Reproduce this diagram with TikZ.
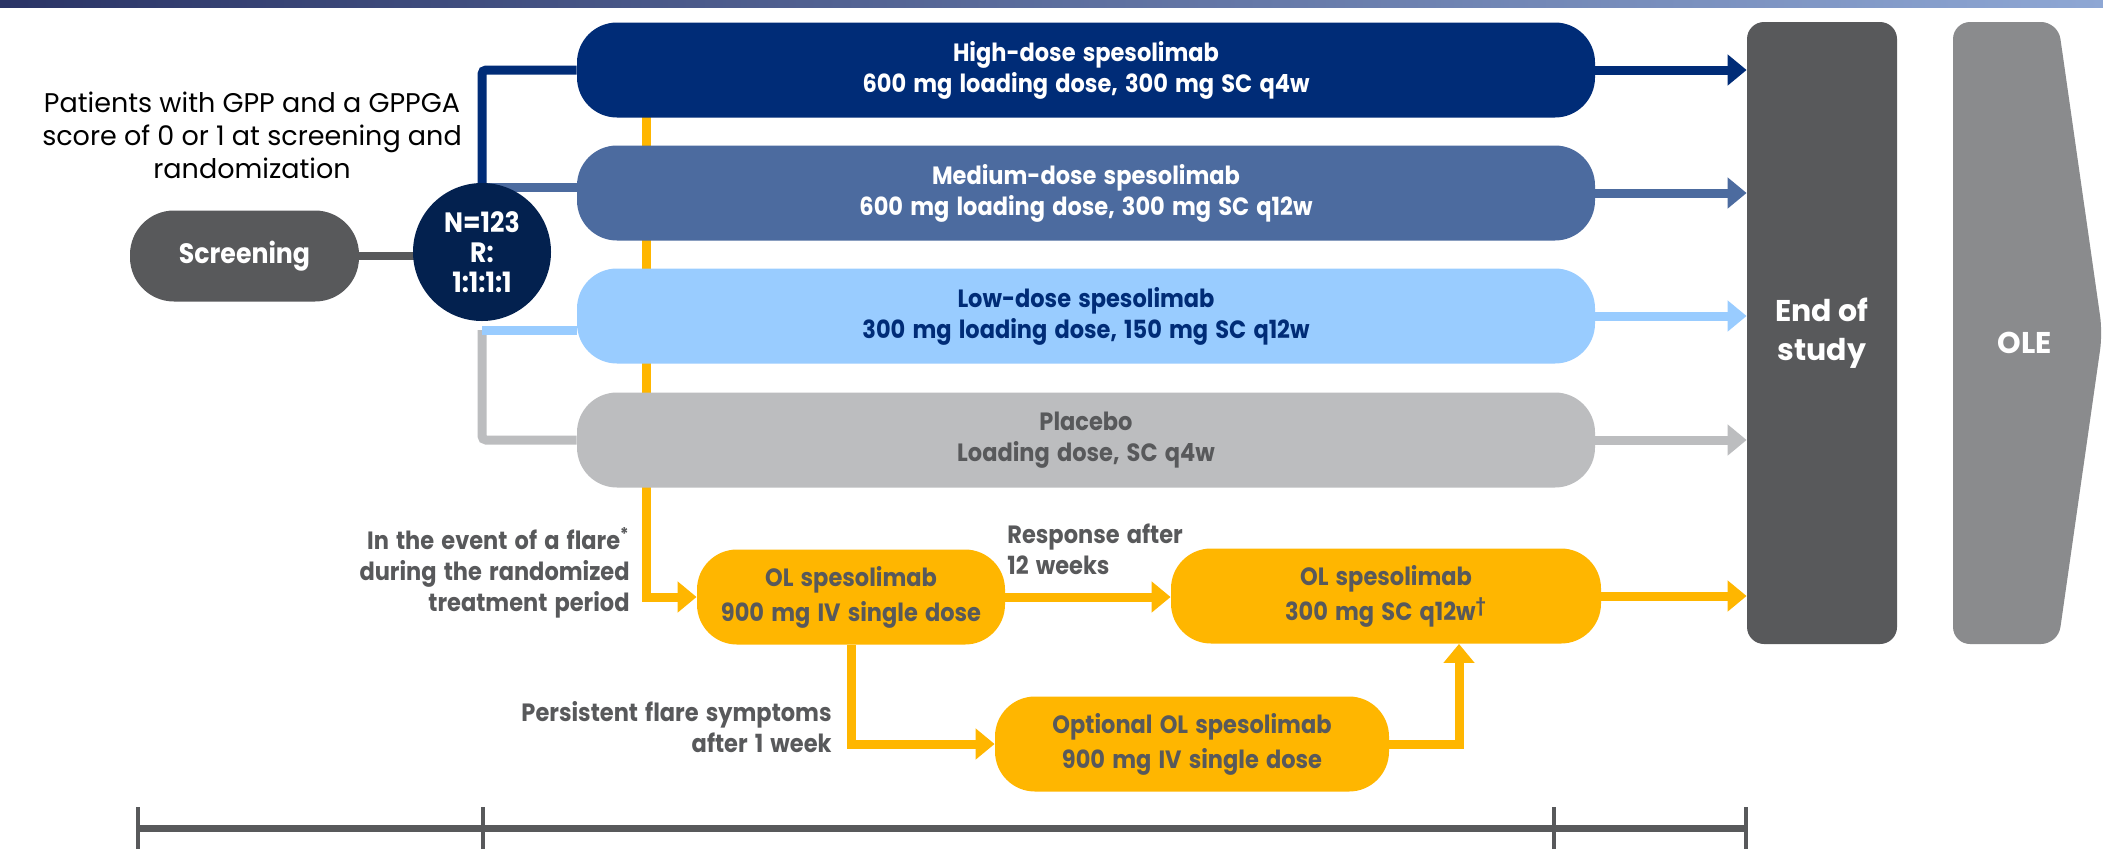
\documentclass[tikz,border=0pt]{standalone}
\usepackage{fontspec}
\setmainfont{Poppins}
\newfontfamily\narrowbold{Poppins}[FakeStretch=0.9, WordSpace=1.5]
\usetikzlibrary{arrows.meta,backgrounds}

\definecolor{topleft}{HTML}{2A3466}
\definecolor{topright}{HTML}{8EA7D4}
\definecolor{hdblue}{HTML}{002C77}
\definecolor{mdblue}{HTML}{4C6B9F}
\definecolor{ldblue}{HTML}{99CCFF}
\definecolor{pbgray}{HTML}{BCBDBF}
\definecolor{darkgray}{HTML}{58595B}
\definecolor{circnavy}{HTML}{03214F}
\definecolor{olyellow}{HTML}{FFB600}
\definecolor{olegray}{HTML}{8A8B8D}

\begin{document}
\begin{tikzpicture}[x=0.5pt, y=-0.5pt,
  boldtxt/.style={font=\narrowbold\bfseries\fontsize{12.5pt}{15.5pt}\selectfont},
  arm/.style={boldtxt, rounded corners=20pt, inner sep=0pt, minimum width=509pt,
              minimum height=47.5pt, align=center},
  olbox/.style={arm, fill=olyellow, text=darkgray,
                font=\narrowbold\bfseries\fontsize{12.5pt}{17.5pt}\selectfont},
  link/.style={line width=4.5pt},
  arrowto/.style={link, -{Triangle[length=9.5pt,width=15pt]}},
  note/.style={boldtxt, text=darkgray, inner sep=0pt},
  bigtxt/.style={font=\bfseries\fontsize{15pt}{19.5pt}\selectfont, text=white, align=center},
]
\useasboundingbox (0,0) rectangle (2103,863);

% header bar
\shade[left color=topleft, right color=topright] (0,0) rectangle (2103,7);

% screening and randomisation
\node[fill=darkgray, rounded corners=22pt, minimum width=114.5pt, minimum height=45.5pt,
      inner sep=0pt, text=white, font=\narrowbold\bfseries\fontsize{14pt}{16pt}\selectfont]
      (screen) at (244.5,256) {Screening};
\node[circle, fill=circnavy, minimum size=69pt, inner sep=0pt, text=white, align=center,
      font=\narrowbold\bfseries\fontsize{14pt}{15pt}\selectfont] (circ) at (482,252)
      {N=123\\R:\\1:1:1:1};

\node[font=\fontsize{13.5pt}{16.5pt}\selectfont, align=center, inner sep=0pt] (patients)
      at (252,135) {Patients with GPP and a GPPGA\\score of 0 or 1 at screening and\\randomization};

% randomised arms
\node[arm, fill=hdblue, text=white] (high) at (1086,70)
      {High-dose spesolimab\\600 mg loading dose, 300 mg SC q4w};
\node[arm, fill=mdblue, text=white] (med) at (1086,193)
      {Medium-dose spesolimab\\600 mg loading dose, 300 mg SC q12w};
\node[arm, fill=ldblue, text=hdblue] (low) at (1086,316)
      {Low-dose spesolimab\\300 mg loading dose, 150 mg SC q12w};
\node[arm, fill=pbgray, text=darkgray] (plac) at (1086,440)
      {Placebo\\Loading dose, SC q4w};

% open-label treatment
\node[olbox, minimum width=154pt] (ol1) at (851,597) {OL spesolimab\\900 mg IV single dose};
\node[olbox, minimum width=215pt] (ol2) at (1386,596) {OL spesolimab\\300 mg SC q12w\textsuperscript{\textdagger}};
\node[olbox, minimum width=197pt] (ol3) at (1192,744) {Optional OL spesolimab\\900 mg IV single dose};

% end of study and extension
\node[fill=darkgray, rounded corners=8.5pt, minimum width=75pt, minimum height=311pt,
      inner sep=0pt, bigtxt] (eos) at (1822,333) {End of\\study};
\fill[olegray, rounded corners=8.5pt] (1953,333) -- (1953,22) -- (2058,22) -- (2102.5,333)
      -- (2058,644) -- (1953,644) -- cycle;
\node[bigtxt, inner sep=0pt] (ole) at (2025,343) {OLE};

% connectors behind the boxes
\coordinate (jm) at (482,187);
\coordinate (jl) at (482,330);
\coordinate (flaretop) at (646,110);
\begin{scope}[on background layer]
  \fill[white] (0,0) rectangle (2103,863);
  \draw[link, line width=4pt, darkgray] (screen.east) -- (screen.east -| circ.center);
  \draw[link, hdblue, rounded corners=2pt] (circ.center) |- (high.west);
  \draw[link, mdblue] (jm) -- (jm -| med.west);
  \draw[link, pbgray, rounded corners=2pt] (jl) |- (plac.west);
  \draw[link, ldblue] (jl) -- (jl -| low.west);
  \draw[arrowto, olyellow] (flaretop) |- (ol1.west);
\end{scope}

% arrows into end of study
\draw[arrowto, hdblue] (high.east) -- (high.east -| eos.west);
\draw[arrowto, mdblue] (med.east) -- (med.east -| eos.west);
\draw[arrowto, ldblue] (low.east) -- (low.east -| eos.west);
\draw[arrowto, pbgray] (plac.east) -- (plac.east -| eos.west);
\draw[arrowto, olyellow] (ol2.east) -- (ol2.east -| eos.west);

% open-label flow
\draw[arrowto, olyellow] (ol1.east) -- (ol1.east -| ol2.west);
\draw[arrowto, olyellow] (ol1.south) |- (ol3.west);
\draw[arrowto, olyellow] (ol3.east) -| ([xshift=36.5pt]ol2.south);

% labels
\node[note, anchor=east, align=right] (flarelbl) at (630,573)
      {In the event of a flare\textsuperscript{*}\\during the randomized\\treatment period};
\node[note, anchor=west, align=left] (resplbl) at (1007,549) {Response after\\12 weeks};
\node[note, anchor=east, align=right] (perslbl) at (832,727) {Persistent flare symptoms\\after 1 week};

% timeline
\coordinate (t0) at (138,828);
\coordinate (t1) at (483,828);
\coordinate (t2) at (1554,828);
\coordinate (t3) at (1746,828);
\draw[darkgray, line width=3.5pt] (t0) -- (t3);
\foreach \t in {t0,t1,t2,t3}
  \draw[darkgray, line width=2pt] ([yshift=10.5pt]\t) -- ([yshift=-10.5pt]\t);
\end{tikzpicture}
\end{document}
